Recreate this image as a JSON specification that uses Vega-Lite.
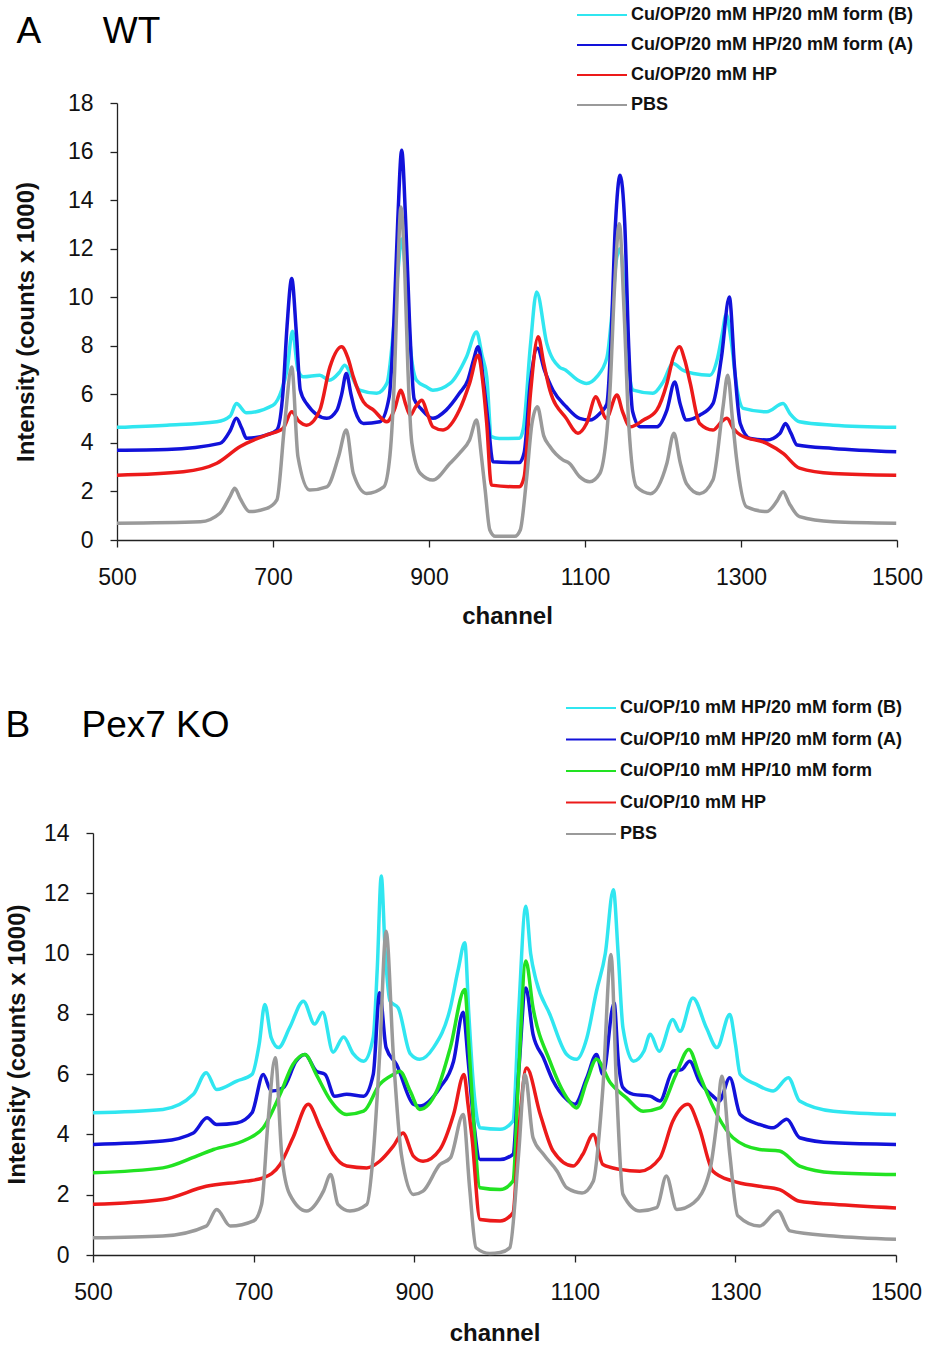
{
  "$schema": "https://vega.github.io/schema/vega-lite/v6.json",
  "padding": {"left": 5, "top": 6, "right": 5, "bottom": 0},
  "datasets": {
    "wt": [
      {"s": "Cu/OP/20 mM HP/20 mM form (B)", "ch": 500, "v": 4.64}, {"s": "Cu/OP/20 mM HP/20 mM form (B)", "ch": 564, "v": 4.73}, {"s": "Cu/OP/20 mM HP/20 mM form (B)", "ch": 628, "v": 4.87}, {"s": "Cu/OP/20 mM HP/20 mM form (B)", "ch": 645, "v": 5.1}, {"s": "Cu/OP/20 mM HP/20 mM form (B)", "ch": 653, "v": 5.62}, {"s": "Cu/OP/20 mM HP/20 mM form (B)", "ch": 666, "v": 5.24}, {"s": "Cu/OP/20 mM HP/20 mM form (B)", "ch": 700, "v": 5.55}, {"s": "Cu/OP/20 mM HP/20 mM form (B)", "ch": 711, "v": 6.17}, {"s": "Cu/OP/20 mM HP/20 mM form (B)", "ch": 718, "v": 7.0}, {"s": "Cu/OP/20 mM HP/20 mM form (B)", "ch": 725, "v": 8.6}, {"s": "Cu/OP/20 mM HP/20 mM form (B)", "ch": 732, "v": 7.0}, {"s": "Cu/OP/20 mM HP/20 mM form (B)", "ch": 739, "v": 6.72}, {"s": "Cu/OP/20 mM HP/20 mM form (B)", "ch": 760, "v": 6.79}, {"s": "Cu/OP/20 mM HP/20 mM form (B)", "ch": 772, "v": 6.58}, {"s": "Cu/OP/20 mM HP/20 mM form (B)", "ch": 785, "v": 6.9}, {"s": "Cu/OP/20 mM HP/20 mM form (B)", "ch": 792, "v": 7.2}, {"s": "Cu/OP/20 mM HP/20 mM form (B)", "ch": 800, "v": 6.8}, {"s": "Cu/OP/20 mM HP/20 mM form (B)", "ch": 811, "v": 6.17}, {"s": "Cu/OP/20 mM HP/20 mM form (B)", "ch": 833, "v": 6.04}, {"s": "Cu/OP/20 mM HP/20 mM form (B)", "ch": 846, "v": 6.45}, {"s": "Cu/OP/20 mM HP/20 mM form (B)", "ch": 854, "v": 8.5}, {"s": "Cu/OP/20 mM HP/20 mM form (B)", "ch": 860, "v": 11.0}, {"s": "Cu/OP/20 mM HP/20 mM form (B)", "ch": 865, "v": 12.4}, {"s": "Cu/OP/20 mM HP/20 mM form (B)", "ch": 870, "v": 11.0}, {"s": "Cu/OP/20 mM HP/20 mM form (B)", "ch": 876, "v": 8.0}, {"s": "Cu/OP/20 mM HP/20 mM form (B)", "ch": 884, "v": 6.58}, {"s": "Cu/OP/20 mM HP/20 mM form (B)", "ch": 897, "v": 6.3}, {"s": "Cu/OP/20 mM HP/20 mM form (B)", "ch": 905, "v": 6.17}, {"s": "Cu/OP/20 mM HP/20 mM form (B)", "ch": 927, "v": 6.45}, {"s": "Cu/OP/20 mM HP/20 mM form (B)", "ch": 948, "v": 7.54}, {"s": "Cu/OP/20 mM HP/20 mM form (B)", "ch": 961, "v": 8.57}, {"s": "Cu/OP/20 mM HP/20 mM form (B)", "ch": 968, "v": 7.6}, {"s": "Cu/OP/20 mM HP/20 mM form (B)", "ch": 974, "v": 6.72}, {"s": "Cu/OP/20 mM HP/20 mM form (B)", "ch": 980, "v": 4.26}, {"s": "Cu/OP/20 mM HP/20 mM form (B)", "ch": 990, "v": 4.18}, {"s": "Cu/OP/20 mM HP/20 mM form (B)", "ch": 1016, "v": 4.19}, {"s": "Cu/OP/20 mM HP/20 mM form (B)", "ch": 1021, "v": 4.6}, {"s": "Cu/OP/20 mM HP/20 mM form (B)", "ch": 1030, "v": 8.0}, {"s": "Cu/OP/20 mM HP/20 mM form (B)", "ch": 1038, "v": 10.22}, {"s": "Cu/OP/20 mM HP/20 mM form (B)", "ch": 1051, "v": 8.1}, {"s": "Cu/OP/20 mM HP/20 mM form (B)", "ch": 1067, "v": 7.13}, {"s": "Cu/OP/20 mM HP/20 mM form (B)", "ch": 1075, "v": 7.0}, {"s": "Cu/OP/20 mM HP/20 mM form (B)", "ch": 1090, "v": 6.6}, {"s": "Cu/OP/20 mM HP/20 mM form (B)", "ch": 1102, "v": 6.45}, {"s": "Cu/OP/20 mM HP/20 mM form (B)", "ch": 1115, "v": 6.72}, {"s": "Cu/OP/20 mM HP/20 mM form (B)", "ch": 1128, "v": 7.5}, {"s": "Cu/OP/20 mM HP/20 mM form (B)", "ch": 1135, "v": 9.5}, {"s": "Cu/OP/20 mM HP/20 mM form (B)", "ch": 1140, "v": 11.5}, {"s": "Cu/OP/20 mM HP/20 mM form (B)", "ch": 1145, "v": 12.0}, {"s": "Cu/OP/20 mM HP/20 mM form (B)", "ch": 1150, "v": 10.5}, {"s": "Cu/OP/20 mM HP/20 mM form (B)", "ch": 1155, "v": 7.5}, {"s": "Cu/OP/20 mM HP/20 mM form (B)", "ch": 1162, "v": 6.17}, {"s": "Cu/OP/20 mM HP/20 mM form (B)", "ch": 1187, "v": 6.04}, {"s": "Cu/OP/20 mM HP/20 mM form (B)", "ch": 1200, "v": 6.5}, {"s": "Cu/OP/20 mM HP/20 mM form (B)", "ch": 1213, "v": 7.27}, {"s": "Cu/OP/20 mM HP/20 mM form (B)", "ch": 1225, "v": 7.0}, {"s": "Cu/OP/20 mM HP/20 mM form (B)", "ch": 1239, "v": 6.86}, {"s": "Cu/OP/20 mM HP/20 mM form (B)", "ch": 1260, "v": 6.79}, {"s": "Cu/OP/20 mM HP/20 mM form (B)", "ch": 1270, "v": 7.5}, {"s": "Cu/OP/20 mM HP/20 mM form (B)", "ch": 1276, "v": 8.5}, {"s": "Cu/OP/20 mM HP/20 mM form (B)", "ch": 1281, "v": 9.3}, {"s": "Cu/OP/20 mM HP/20 mM form (B)", "ch": 1287, "v": 8.3}, {"s": "Cu/OP/20 mM HP/20 mM form (B)", "ch": 1295, "v": 6.2}, {"s": "Cu/OP/20 mM HP/20 mM form (B)", "ch": 1303, "v": 5.42}, {"s": "Cu/OP/20 mM HP/20 mM form (B)", "ch": 1333, "v": 5.28}, {"s": "Cu/OP/20 mM HP/20 mM form (B)", "ch": 1354, "v": 5.62}, {"s": "Cu/OP/20 mM HP/20 mM form (B)", "ch": 1363, "v": 5.2}, {"s": "Cu/OP/20 mM HP/20 mM form (B)", "ch": 1375, "v": 4.87}, {"s": "Cu/OP/20 mM HP/20 mM form (B)", "ch": 1418, "v": 4.73}, {"s": "Cu/OP/20 mM HP/20 mM form (B)", "ch": 1499, "v": 4.64},

      {"s": "Cu/OP/20 mM HP/20 mM form (A)", "ch": 500, "v": 3.7}, {"s": "Cu/OP/20 mM HP/20 mM form (A)", "ch": 564, "v": 3.73}, {"s": "Cu/OP/20 mM HP/20 mM form (A)", "ch": 632, "v": 3.98}, {"s": "Cu/OP/20 mM HP/20 mM form (A)", "ch": 645, "v": 4.5}, {"s": "Cu/OP/20 mM HP/20 mM form (A)", "ch": 653, "v": 5.01}, {"s": "Cu/OP/20 mM HP/20 mM form (A)", "ch": 660, "v": 4.6}, {"s": "Cu/OP/20 mM HP/20 mM form (A)", "ch": 666, "v": 4.19}, {"s": "Cu/OP/20 mM HP/20 mM form (A)", "ch": 692, "v": 4.33}, {"s": "Cu/OP/20 mM HP/20 mM form (A)", "ch": 705, "v": 4.53}, {"s": "Cu/OP/20 mM HP/20 mM form (A)", "ch": 713, "v": 6.17}, {"s": "Cu/OP/20 mM HP/20 mM form (A)", "ch": 718, "v": 8.8}, {"s": "Cu/OP/20 mM HP/20 mM form (A)", "ch": 724, "v": 10.77}, {"s": "Cu/OP/20 mM HP/20 mM form (A)", "ch": 730, "v": 8.5}, {"s": "Cu/OP/20 mM HP/20 mM form (A)", "ch": 735, "v": 6.17}, {"s": "Cu/OP/20 mM HP/20 mM form (A)", "ch": 743, "v": 5.62}, {"s": "Cu/OP/20 mM HP/20 mM form (A)", "ch": 769, "v": 5.01}, {"s": "Cu/OP/20 mM HP/20 mM form (A)", "ch": 782, "v": 5.35}, {"s": "Cu/OP/20 mM HP/20 mM form (A)", "ch": 788, "v": 6.0}, {"s": "Cu/OP/20 mM HP/20 mM form (A)", "ch": 794, "v": 6.86}, {"s": "Cu/OP/20 mM HP/20 mM form (A)", "ch": 800, "v": 6.0}, {"s": "Cu/OP/20 mM HP/20 mM form (A)", "ch": 805, "v": 5.35}, {"s": "Cu/OP/20 mM HP/20 mM form (A)", "ch": 816, "v": 4.8}, {"s": "Cu/OP/20 mM HP/20 mM form (A)", "ch": 837, "v": 4.87}, {"s": "Cu/OP/20 mM HP/20 mM form (A)", "ch": 849, "v": 5.9}, {"s": "Cu/OP/20 mM HP/20 mM form (A)", "ch": 855, "v": 9.0}, {"s": "Cu/OP/20 mM HP/20 mM form (A)", "ch": 860, "v": 13.2}, {"s": "Cu/OP/20 mM HP/20 mM form (A)", "ch": 865, "v": 16.05}, {"s": "Cu/OP/20 mM HP/20 mM form (A)", "ch": 870, "v": 13.2}, {"s": "Cu/OP/20 mM HP/20 mM form (A)", "ch": 875, "v": 9.0}, {"s": "Cu/OP/20 mM HP/20 mM form (A)", "ch": 881, "v": 5.8}, {"s": "Cu/OP/20 mM HP/20 mM form (A)", "ch": 890, "v": 5.4}, {"s": "Cu/OP/20 mM HP/20 mM form (A)", "ch": 905, "v": 5.01}, {"s": "Cu/OP/20 mM HP/20 mM form (A)", "ch": 922, "v": 5.35}, {"s": "Cu/OP/20 mM HP/20 mM form (A)", "ch": 939, "v": 6.04}, {"s": "Cu/OP/20 mM HP/20 mM form (A)", "ch": 950, "v": 6.6}, {"s": "Cu/OP/20 mM HP/20 mM form (A)", "ch": 957, "v": 7.4}, {"s": "Cu/OP/20 mM HP/20 mM form (A)", "ch": 963, "v": 7.96}, {"s": "Cu/OP/20 mM HP/20 mM form (A)", "ch": 970, "v": 6.5}, {"s": "Cu/OP/20 mM HP/20 mM form (A)", "ch": 976, "v": 4.8}, {"s": "Cu/OP/20 mM HP/20 mM form (A)", "ch": 982, "v": 3.22}, {"s": "Cu/OP/20 mM HP/20 mM form (A)", "ch": 1016, "v": 3.19}, {"s": "Cu/OP/20 mM HP/20 mM form (A)", "ch": 1022, "v": 3.6}, {"s": "Cu/OP/20 mM HP/20 mM form (A)", "ch": 1030, "v": 6.5}, {"s": "Cu/OP/20 mM HP/20 mM form (A)", "ch": 1039, "v": 7.9}, {"s": "Cu/OP/20 mM HP/20 mM form (A)", "ch": 1048, "v": 7.0}, {"s": "Cu/OP/20 mM HP/20 mM form (A)", "ch": 1059, "v": 6.17}, {"s": "Cu/OP/20 mM HP/20 mM form (A)", "ch": 1076, "v": 5.49}, {"s": "Cu/OP/20 mM HP/20 mM form (A)", "ch": 1093, "v": 5.01}, {"s": "Cu/OP/20 mM HP/20 mM form (A)", "ch": 1106, "v": 4.94}, {"s": "Cu/OP/20 mM HP/20 mM form (A)", "ch": 1119, "v": 5.21}, {"s": "Cu/OP/20 mM HP/20 mM form (A)", "ch": 1128, "v": 5.6}, {"s": "Cu/OP/20 mM HP/20 mM form (A)", "ch": 1133, "v": 8.0}, {"s": "Cu/OP/20 mM HP/20 mM form (A)", "ch": 1139, "v": 13.0}, {"s": "Cu/OP/20 mM HP/20 mM form (A)", "ch": 1145, "v": 15.02}, {"s": "Cu/OP/20 mM HP/20 mM form (A)", "ch": 1151, "v": 13.0}, {"s": "Cu/OP/20 mM HP/20 mM form (A)", "ch": 1156, "v": 8.0}, {"s": "Cu/OP/20 mM HP/20 mM form (A)", "ch": 1161, "v": 5.3}, {"s": "Cu/OP/20 mM HP/20 mM form (A)", "ch": 1171, "v": 4.66}, {"s": "Cu/OP/20 mM HP/20 mM form (A)", "ch": 1192, "v": 4.66}, {"s": "Cu/OP/20 mM HP/20 mM form (A)", "ch": 1205, "v": 5.35}, {"s": "Cu/OP/20 mM HP/20 mM form (A)", "ch": 1215, "v": 6.51}, {"s": "Cu/OP/20 mM HP/20 mM form (A)", "ch": 1222, "v": 5.6}, {"s": "Cu/OP/20 mM HP/20 mM form (A)", "ch": 1230, "v": 4.94}, {"s": "Cu/OP/20 mM HP/20 mM form (A)", "ch": 1247, "v": 5.14}, {"s": "Cu/OP/20 mM HP/20 mM form (A)", "ch": 1264, "v": 5.62}, {"s": "Cu/OP/20 mM HP/20 mM form (A)", "ch": 1275, "v": 7.54}, {"s": "Cu/OP/20 mM HP/20 mM form (A)", "ch": 1285, "v": 10.01}, {"s": "Cu/OP/20 mM HP/20 mM form (A)", "ch": 1292, "v": 7.0}, {"s": "Cu/OP/20 mM HP/20 mM form (A)", "ch": 1299, "v": 4.8}, {"s": "Cu/OP/20 mM HP/20 mM form (A)", "ch": 1312, "v": 4.18}, {"s": "Cu/OP/20 mM HP/20 mM form (A)", "ch": 1333, "v": 4.12}, {"s": "Cu/OP/20 mM HP/20 mM form (A)", "ch": 1350, "v": 4.4}, {"s": "Cu/OP/20 mM HP/20 mM form (A)", "ch": 1357, "v": 4.8}, {"s": "Cu/OP/20 mM HP/20 mM form (A)", "ch": 1364, "v": 4.4}, {"s": "Cu/OP/20 mM HP/20 mM form (A)", "ch": 1372, "v": 3.91}, {"s": "Cu/OP/20 mM HP/20 mM form (A)", "ch": 1418, "v": 3.77}, {"s": "Cu/OP/20 mM HP/20 mM form (A)", "ch": 1499, "v": 3.63},

      {"s": "Cu/OP/20 mM HP", "ch": 500, "v": 2.67}, {"s": "Cu/OP/20 mM HP", "ch": 585, "v": 2.81}, {"s": "Cu/OP/20 mM HP", "ch": 628, "v": 3.16}, {"s": "Cu/OP/20 mM HP", "ch": 658, "v": 3.85}, {"s": "Cu/OP/20 mM HP", "ch": 692, "v": 4.33}, {"s": "Cu/OP/20 mM HP", "ch": 713, "v": 4.6}, {"s": "Cu/OP/20 mM HP", "ch": 724, "v": 5.28}, {"s": "Cu/OP/20 mM HP", "ch": 733, "v": 4.9}, {"s": "Cu/OP/20 mM HP", "ch": 743, "v": 4.73}, {"s": "Cu/OP/20 mM HP", "ch": 760, "v": 5.35}, {"s": "Cu/OP/20 mM HP", "ch": 773, "v": 7.13}, {"s": "Cu/OP/20 mM HP", "ch": 788, "v": 7.96}, {"s": "Cu/OP/20 mM HP", "ch": 796, "v": 7.5}, {"s": "Cu/OP/20 mM HP", "ch": 803, "v": 6.72}, {"s": "Cu/OP/20 mM HP", "ch": 816, "v": 5.69}, {"s": "Cu/OP/20 mM HP", "ch": 829, "v": 5.35}, {"s": "Cu/OP/20 mM HP", "ch": 846, "v": 4.87}, {"s": "Cu/OP/20 mM HP", "ch": 856, "v": 5.4}, {"s": "Cu/OP/20 mM HP", "ch": 864, "v": 6.17}, {"s": "Cu/OP/20 mM HP", "ch": 870, "v": 5.6}, {"s": "Cu/OP/20 mM HP", "ch": 876, "v": 5.14}, {"s": "Cu/OP/20 mM HP", "ch": 883, "v": 5.5}, {"s": "Cu/OP/20 mM HP", "ch": 891, "v": 5.76}, {"s": "Cu/OP/20 mM HP", "ch": 898, "v": 5.2}, {"s": "Cu/OP/20 mM HP", "ch": 905, "v": 4.66}, {"s": "Cu/OP/20 mM HP", "ch": 918, "v": 4.53}, {"s": "Cu/OP/20 mM HP", "ch": 939, "v": 5.35}, {"s": "Cu/OP/20 mM HP", "ch": 952, "v": 6.45}, {"s": "Cu/OP/20 mM HP", "ch": 963, "v": 7.61}, {"s": "Cu/OP/20 mM HP", "ch": 969, "v": 6.5}, {"s": "Cu/OP/20 mM HP", "ch": 974, "v": 4.8}, {"s": "Cu/OP/20 mM HP", "ch": 980, "v": 2.26}, {"s": "Cu/OP/20 mM HP", "ch": 1016, "v": 2.19}, {"s": "Cu/OP/20 mM HP", "ch": 1022, "v": 2.6}, {"s": "Cu/OP/20 mM HP", "ch": 1030, "v": 6.0}, {"s": "Cu/OP/20 mM HP", "ch": 1040, "v": 8.37}, {"s": "Cu/OP/20 mM HP", "ch": 1047, "v": 7.3}, {"s": "Cu/OP/20 mM HP", "ch": 1055, "v": 6.17}, {"s": "Cu/OP/20 mM HP", "ch": 1076, "v": 5.01}, {"s": "Cu/OP/20 mM HP", "ch": 1091, "v": 4.4}, {"s": "Cu/OP/20 mM HP", "ch": 1102, "v": 4.8}, {"s": "Cu/OP/20 mM HP", "ch": 1114, "v": 5.9}, {"s": "Cu/OP/20 mM HP", "ch": 1120, "v": 5.5}, {"s": "Cu/OP/20 mM HP", "ch": 1127, "v": 5.0}, {"s": "Cu/OP/20 mM HP", "ch": 1141, "v": 5.97}, {"s": "Cu/OP/20 mM HP", "ch": 1148, "v": 5.3}, {"s": "Cu/OP/20 mM HP", "ch": 1158, "v": 4.66}, {"s": "Cu/OP/20 mM HP", "ch": 1175, "v": 4.94}, {"s": "Cu/OP/20 mM HP", "ch": 1192, "v": 5.35}, {"s": "Cu/OP/20 mM HP", "ch": 1205, "v": 6.45}, {"s": "Cu/OP/20 mM HP", "ch": 1213, "v": 7.5}, {"s": "Cu/OP/20 mM HP", "ch": 1221, "v": 7.96}, {"s": "Cu/OP/20 mM HP", "ch": 1228, "v": 7.4}, {"s": "Cu/OP/20 mM HP", "ch": 1235, "v": 6.45}, {"s": "Cu/OP/20 mM HP", "ch": 1247, "v": 4.8}, {"s": "Cu/OP/20 mM HP", "ch": 1264, "v": 4.53}, {"s": "Cu/OP/20 mM HP", "ch": 1276, "v": 4.9}, {"s": "Cu/OP/20 mM HP", "ch": 1282, "v": 5.01}, {"s": "Cu/OP/20 mM HP", "ch": 1290, "v": 4.6}, {"s": "Cu/OP/20 mM HP", "ch": 1299, "v": 4.33}, {"s": "Cu/OP/20 mM HP", "ch": 1333, "v": 3.98}, {"s": "Cu/OP/20 mM HP", "ch": 1354, "v": 3.57}, {"s": "Cu/OP/20 mM HP", "ch": 1375, "v": 2.96}, {"s": "Cu/OP/20 mM HP", "ch": 1418, "v": 2.74}, {"s": "Cu/OP/20 mM HP", "ch": 1499, "v": 2.67},

      {"s": "PBS", "ch": 500, "v": 0.69}, {"s": "PBS", "ch": 607, "v": 0.75}, {"s": "PBS", "ch": 632, "v": 1.1}, {"s": "PBS", "ch": 645, "v": 1.8}, {"s": "PBS", "ch": 651, "v": 2.13}, {"s": "PBS", "ch": 658, "v": 1.7}, {"s": "PBS", "ch": 670, "v": 1.17}, {"s": "PBS", "ch": 692, "v": 1.3}, {"s": "PBS", "ch": 705, "v": 1.65}, {"s": "PBS", "ch": 715, "v": 4.8}, {"s": "PBS", "ch": 724, "v": 7.13}, {"s": "PBS", "ch": 732, "v": 3.43}, {"s": "PBS", "ch": 747, "v": 2.06}, {"s": "PBS", "ch": 769, "v": 2.19}, {"s": "PBS", "ch": 784, "v": 3.43}, {"s": "PBS", "ch": 794, "v": 4.53}, {"s": "PBS", "ch": 803, "v": 2.74}, {"s": "PBS", "ch": 820, "v": 1.92}, {"s": "PBS", "ch": 842, "v": 2.19}, {"s": "PBS", "ch": 850, "v": 3.5}, {"s": "PBS", "ch": 856, "v": 7.0}, {"s": "PBS", "ch": 860, "v": 11.0}, {"s": "PBS", "ch": 864, "v": 13.72}, {"s": "PBS", "ch": 869, "v": 11.0}, {"s": "PBS", "ch": 873, "v": 7.0}, {"s": "PBS", "ch": 878, "v": 4.0}, {"s": "PBS", "ch": 889, "v": 2.74}, {"s": "PBS", "ch": 905, "v": 2.47}, {"s": "PBS", "ch": 927, "v": 3.16}, {"s": "PBS", "ch": 939, "v": 3.57}, {"s": "PBS", "ch": 952, "v": 4.12}, {"s": "PBS", "ch": 961, "v": 4.94}, {"s": "PBS", "ch": 967, "v": 3.5}, {"s": "PBS", "ch": 972, "v": 2.06}, {"s": "PBS", "ch": 978, "v": 0.41}, {"s": "PBS", "ch": 985, "v": 0.15}, {"s": "PBS", "ch": 1010, "v": 0.15}, {"s": "PBS", "ch": 1017, "v": 0.41}, {"s": "PBS", "ch": 1025, "v": 2.5}, {"s": "PBS", "ch": 1032, "v": 4.8}, {"s": "PBS", "ch": 1039, "v": 5.49}, {"s": "PBS", "ch": 1047, "v": 4.3}, {"s": "PBS", "ch": 1055, "v": 3.85}, {"s": "PBS", "ch": 1072, "v": 3.29}, {"s": "PBS", "ch": 1080, "v": 3.16}, {"s": "PBS", "ch": 1093, "v": 2.61}, {"s": "PBS", "ch": 1106, "v": 2.4}, {"s": "PBS", "ch": 1119, "v": 2.74}, {"s": "PBS", "ch": 1132, "v": 6.17}, {"s": "PBS", "ch": 1138, "v": 10.5}, {"s": "PBS", "ch": 1144, "v": 13.03}, {"s": "PBS", "ch": 1150, "v": 9.5}, {"s": "PBS", "ch": 1156, "v": 4.8}, {"s": "PBS", "ch": 1166, "v": 2.19}, {"s": "PBS", "ch": 1184, "v": 1.91}, {"s": "PBS", "ch": 1205, "v": 3.16}, {"s": "PBS", "ch": 1214, "v": 4.4}, {"s": "PBS", "ch": 1222, "v": 3.2}, {"s": "PBS", "ch": 1230, "v": 2.33}, {"s": "PBS", "ch": 1247, "v": 1.91}, {"s": "PBS", "ch": 1264, "v": 2.47}, {"s": "PBS", "ch": 1277, "v": 5.49}, {"s": "PBS", "ch": 1283, "v": 6.79}, {"s": "PBS", "ch": 1289, "v": 5.0}, {"s": "PBS", "ch": 1294, "v": 3.43}, {"s": "PBS", "ch": 1307, "v": 1.37}, {"s": "PBS", "ch": 1333, "v": 1.17}, {"s": "PBS", "ch": 1346, "v": 1.6}, {"s": "PBS", "ch": 1354, "v": 1.99}, {"s": "PBS", "ch": 1362, "v": 1.5}, {"s": "PBS", "ch": 1375, "v": 0.96}, {"s": "PBS", "ch": 1418, "v": 0.75}, {"s": "PBS", "ch": 1499, "v": 0.69}
    ],
    "ko": [
      {"s": "Cu/OP/10 mM HP/20 mM form (B)", "ch": 500, "v": 4.72}, {"s": "Cu/OP/10 mM HP/20 mM form (B)", "ch": 587, "v": 4.83}, {"s": "Cu/OP/10 mM HP/20 mM form (B)", "ch": 625, "v": 5.33}, {"s": "Cu/OP/10 mM HP/20 mM form (B)", "ch": 641, "v": 6.05}, {"s": "Cu/OP/10 mM HP/20 mM form (B)", "ch": 654, "v": 5.49}, {"s": "Cu/OP/10 mM HP/20 mM form (B)", "ch": 679, "v": 5.77}, {"s": "Cu/OP/10 mM HP/20 mM form (B)", "ch": 698, "v": 5.99}, {"s": "Cu/OP/10 mM HP/20 mM form (B)", "ch": 707, "v": 7.0}, {"s": "Cu/OP/10 mM HP/20 mM form (B)", "ch": 714, "v": 8.31}, {"s": "Cu/OP/10 mM HP/20 mM form (B)", "ch": 722, "v": 7.2}, {"s": "Cu/OP/10 mM HP/20 mM form (B)", "ch": 731, "v": 6.88}, {"s": "Cu/OP/10 mM HP/20 mM form (B)", "ch": 745, "v": 7.55}, {"s": "Cu/OP/10 mM HP/20 mM form (B)", "ch": 762, "v": 8.42}, {"s": "Cu/OP/10 mM HP/20 mM form (B)", "ch": 776, "v": 7.66}, {"s": "Cu/OP/10 mM HP/20 mM form (B)", "ch": 786, "v": 8.05}, {"s": "Cu/OP/10 mM HP/20 mM form (B)", "ch": 799, "v": 6.73}, {"s": "Cu/OP/10 mM HP/20 mM form (B)", "ch": 812, "v": 7.23}, {"s": "Cu/OP/10 mM HP/20 mM form (B)", "ch": 824, "v": 6.68}, {"s": "Cu/OP/10 mM HP/20 mM form (B)", "ch": 837, "v": 6.43}, {"s": "Cu/OP/10 mM HP/20 mM form (B)", "ch": 849, "v": 7.23}, {"s": "Cu/OP/10 mM HP/20 mM form (B)", "ch": 854, "v": 9.5}, {"s": "Cu/OP/10 mM HP/20 mM form (B)", "ch": 859, "v": 12.57}, {"s": "Cu/OP/10 mM HP/20 mM form (B)", "ch": 864, "v": 10.0}, {"s": "Cu/OP/10 mM HP/20 mM form (B)", "ch": 870, "v": 8.42}, {"s": "Cu/OP/10 mM HP/20 mM form (B)", "ch": 880, "v": 8.2}, {"s": "Cu/OP/10 mM HP/20 mM form (B)", "ch": 895, "v": 6.68}, {"s": "Cu/OP/10 mM HP/20 mM form (B)", "ch": 907, "v": 6.49}, {"s": "Cu/OP/10 mM HP/20 mM form (B)", "ch": 924, "v": 6.88}, {"s": "Cu/OP/10 mM HP/20 mM form (B)", "ch": 945, "v": 8.2}, {"s": "Cu/OP/10 mM HP/20 mM form (B)", "ch": 955, "v": 9.5}, {"s": "Cu/OP/10 mM HP/20 mM form (B)", "ch": 963, "v": 10.36}, {"s": "Cu/OP/10 mM HP/20 mM form (B)", "ch": 968, "v": 8.0}, {"s": "Cu/OP/10 mM HP/20 mM form (B)", "ch": 974, "v": 5.55}, {"s": "Cu/OP/10 mM HP/20 mM form (B)", "ch": 982, "v": 4.22}, {"s": "Cu/OP/10 mM HP/20 mM form (B)", "ch": 1007, "v": 4.17}, {"s": "Cu/OP/10 mM HP/20 mM form (B)", "ch": 1023, "v": 4.44}, {"s": "Cu/OP/10 mM HP/20 mM form (B)", "ch": 1030, "v": 8.0}, {"s": "Cu/OP/10 mM HP/20 mM form (B)", "ch": 1039, "v": 11.57}, {"s": "Cu/OP/10 mM HP/20 mM form (B)", "ch": 1045, "v": 10.0}, {"s": "Cu/OP/10 mM HP/20 mM form (B)", "ch": 1052, "v": 9.09}, {"s": "Cu/OP/10 mM HP/20 mM form (B)", "ch": 1069, "v": 7.98}, {"s": "Cu/OP/10 mM HP/20 mM form (B)", "ch": 1090, "v": 6.65}, {"s": "Cu/OP/10 mM HP/20 mM form (B)", "ch": 1102, "v": 6.49}, {"s": "Cu/OP/10 mM HP/20 mM form (B)", "ch": 1115, "v": 7.2}, {"s": "Cu/OP/10 mM HP/20 mM form (B)", "ch": 1127, "v": 8.75}, {"s": "Cu/OP/10 mM HP/20 mM form (B)", "ch": 1138, "v": 10.0}, {"s": "Cu/OP/10 mM HP/20 mM form (B)", "ch": 1148, "v": 12.12}, {"s": "Cu/OP/10 mM HP/20 mM form (B)", "ch": 1154, "v": 10.0}, {"s": "Cu/OP/10 mM HP/20 mM form (B)", "ch": 1160, "v": 7.53}, {"s": "Cu/OP/10 mM HP/20 mM form (B)", "ch": 1173, "v": 6.43}, {"s": "Cu/OP/10 mM HP/20 mM form (B)", "ch": 1186, "v": 6.76}, {"s": "Cu/OP/10 mM HP/20 mM form (B)", "ch": 1194, "v": 7.32}, {"s": "Cu/OP/10 mM HP/20 mM form (B)", "ch": 1205, "v": 6.76}, {"s": "Cu/OP/10 mM HP/20 mM form (B)", "ch": 1222, "v": 7.81}, {"s": "Cu/OP/10 mM HP/20 mM form (B)", "ch": 1231, "v": 7.42}, {"s": "Cu/OP/10 mM HP/20 mM form (B)", "ch": 1247, "v": 8.53}, {"s": "Cu/OP/10 mM HP/20 mM form (B)", "ch": 1264, "v": 7.53}, {"s": "Cu/OP/10 mM HP/20 mM form (B)", "ch": 1277, "v": 6.88}, {"s": "Cu/OP/10 mM HP/20 mM form (B)", "ch": 1293, "v": 7.98}, {"s": "Cu/OP/10 mM HP/20 mM form (B)", "ch": 1300, "v": 7.0}, {"s": "Cu/OP/10 mM HP/20 mM form (B)", "ch": 1306, "v": 5.99}, {"s": "Cu/OP/10 mM HP/20 mM form (B)", "ch": 1326, "v": 5.66}, {"s": "Cu/OP/10 mM HP/20 mM form (B)", "ch": 1347, "v": 5.44}, {"s": "Cu/OP/10 mM HP/20 mM form (B)", "ch": 1366, "v": 5.88}, {"s": "Cu/OP/10 mM HP/20 mM form (B)", "ch": 1380, "v": 5.11}, {"s": "Cu/OP/10 mM HP/20 mM form (B)", "ch": 1422, "v": 4.77}, {"s": "Cu/OP/10 mM HP/20 mM form (B)", "ch": 1500, "v": 4.66},

      {"s": "Cu/OP/10 mM HP/20 mM form (A)", "ch": 500, "v": 3.67}, {"s": "Cu/OP/10 mM HP/20 mM form (A)", "ch": 587, "v": 3.78}, {"s": "Cu/OP/10 mM HP/20 mM form (A)", "ch": 625, "v": 4.05}, {"s": "Cu/OP/10 mM HP/20 mM form (A)", "ch": 642, "v": 4.55}, {"s": "Cu/OP/10 mM HP/20 mM form (A)", "ch": 654, "v": 4.33}, {"s": "Cu/OP/10 mM HP/20 mM form (A)", "ch": 679, "v": 4.38}, {"s": "Cu/OP/10 mM HP/20 mM form (A)", "ch": 698, "v": 4.72}, {"s": "Cu/OP/10 mM HP/20 mM form (A)", "ch": 712, "v": 5.99}, {"s": "Cu/OP/10 mM HP/20 mM form (A)", "ch": 722, "v": 5.44}, {"s": "Cu/OP/10 mM HP/20 mM form (A)", "ch": 737, "v": 5.55}, {"s": "Cu/OP/10 mM HP/20 mM form (A)", "ch": 753, "v": 6.43}, {"s": "Cu/OP/10 mM HP/20 mM form (A)", "ch": 764, "v": 6.65}, {"s": "Cu/OP/10 mM HP/20 mM form (A)", "ch": 778, "v": 6.1}, {"s": "Cu/OP/10 mM HP/20 mM form (A)", "ch": 789, "v": 5.99}, {"s": "Cu/OP/10 mM HP/20 mM form (A)", "ch": 801, "v": 5.27}, {"s": "Cu/OP/10 mM HP/20 mM form (A)", "ch": 816, "v": 5.33}, {"s": "Cu/OP/10 mM HP/20 mM form (A)", "ch": 837, "v": 5.27}, {"s": "Cu/OP/10 mM HP/20 mM form (A)", "ch": 849, "v": 5.99}, {"s": "Cu/OP/10 mM HP/20 mM form (A)", "ch": 857, "v": 8.7}, {"s": "Cu/OP/10 mM HP/20 mM form (A)", "ch": 865, "v": 6.88}, {"s": "Cu/OP/10 mM HP/20 mM form (A)", "ch": 878, "v": 6.32}, {"s": "Cu/OP/10 mM HP/20 mM form (A)", "ch": 899, "v": 5.0}, {"s": "Cu/OP/10 mM HP/20 mM form (A)", "ch": 907, "v": 4.94}, {"s": "Cu/OP/10 mM HP/20 mM form (A)", "ch": 932, "v": 5.55}, {"s": "Cu/OP/10 mM HP/20 mM form (A)", "ch": 949, "v": 6.43}, {"s": "Cu/OP/10 mM HP/20 mM form (A)", "ch": 961, "v": 8.05}, {"s": "Cu/OP/10 mM HP/20 mM form (A)", "ch": 967, "v": 6.5}, {"s": "Cu/OP/10 mM HP/20 mM form (A)", "ch": 974, "v": 4.44}, {"s": "Cu/OP/10 mM HP/20 mM form (A)", "ch": 982, "v": 3.17}, {"s": "Cu/OP/10 mM HP/20 mM form (A)", "ch": 1007, "v": 3.17}, {"s": "Cu/OP/10 mM HP/20 mM form (A)", "ch": 1023, "v": 3.34}, {"s": "Cu/OP/10 mM HP/20 mM form (A)", "ch": 1030, "v": 6.0}, {"s": "Cu/OP/10 mM HP/20 mM form (A)", "ch": 1039, "v": 8.86}, {"s": "Cu/OP/10 mM HP/20 mM form (A)", "ch": 1048, "v": 7.32}, {"s": "Cu/OP/10 mM HP/20 mM form (A)", "ch": 1061, "v": 6.54}, {"s": "Cu/OP/10 mM HP/20 mM form (A)", "ch": 1073, "v": 5.77}, {"s": "Cu/OP/10 mM HP/20 mM form (A)", "ch": 1090, "v": 5.16}, {"s": "Cu/OP/10 mM HP/20 mM form (A)", "ch": 1100, "v": 5.0}, {"s": "Cu/OP/10 mM HP/20 mM form (A)", "ch": 1115, "v": 5.88}, {"s": "Cu/OP/10 mM HP/20 mM form (A)", "ch": 1127, "v": 6.65}, {"s": "Cu/OP/10 mM HP/20 mM form (A)", "ch": 1135, "v": 5.99}, {"s": "Cu/OP/10 mM HP/20 mM form (A)", "ch": 1149, "v": 8.36}, {"s": "Cu/OP/10 mM HP/20 mM form (A)", "ch": 1154, "v": 6.5}, {"s": "Cu/OP/10 mM HP/20 mM form (A)", "ch": 1160, "v": 5.55}, {"s": "Cu/OP/10 mM HP/20 mM form (A)", "ch": 1173, "v": 5.33}, {"s": "Cu/OP/10 mM HP/20 mM form (A)", "ch": 1194, "v": 5.27}, {"s": "Cu/OP/10 mM HP/20 mM form (A)", "ch": 1206, "v": 5.11}, {"s": "Cu/OP/10 mM HP/20 mM form (A)", "ch": 1222, "v": 6.1}, {"s": "Cu/OP/10 mM HP/20 mM form (A)", "ch": 1233, "v": 6.15}, {"s": "Cu/OP/10 mM HP/20 mM form (A)", "ch": 1243, "v": 6.43}, {"s": "Cu/OP/10 mM HP/20 mM form (A)", "ch": 1255, "v": 5.77}, {"s": "Cu/OP/10 mM HP/20 mM form (A)", "ch": 1272, "v": 5.27}, {"s": "Cu/OP/10 mM HP/20 mM form (A)", "ch": 1280, "v": 5.11}, {"s": "Cu/OP/10 mM HP/20 mM form (A)", "ch": 1293, "v": 5.88}, {"s": "Cu/OP/10 mM HP/20 mM form (A)", "ch": 1306, "v": 4.66}, {"s": "Cu/OP/10 mM HP/20 mM form (A)", "ch": 1330, "v": 4.33}, {"s": "Cu/OP/10 mM HP/20 mM form (A)", "ch": 1347, "v": 4.22}, {"s": "Cu/OP/10 mM HP/20 mM form (A)", "ch": 1364, "v": 4.5}, {"s": "Cu/OP/10 mM HP/20 mM form (A)", "ch": 1380, "v": 3.89}, {"s": "Cu/OP/10 mM HP/20 mM form (A)", "ch": 1422, "v": 3.72}, {"s": "Cu/OP/10 mM HP/20 mM form (A)", "ch": 1500, "v": 3.67},

      {"s": "Cu/OP/10 mM HP/10 mM form", "ch": 500, "v": 2.73}, {"s": "Cu/OP/10 mM HP/10 mM form", "ch": 587, "v": 2.89}, {"s": "Cu/OP/10 mM HP/10 mM form", "ch": 629, "v": 3.28}, {"s": "Cu/OP/10 mM HP/10 mM form", "ch": 650, "v": 3.5}, {"s": "Cu/OP/10 mM HP/10 mM form", "ch": 691, "v": 3.83}, {"s": "Cu/OP/10 mM HP/10 mM form", "ch": 712, "v": 4.22}, {"s": "Cu/OP/10 mM HP/10 mM form", "ch": 733, "v": 5.33}, {"s": "Cu/OP/10 mM HP/10 mM form", "ch": 749, "v": 6.32}, {"s": "Cu/OP/10 mM HP/10 mM form", "ch": 764, "v": 6.65}, {"s": "Cu/OP/10 mM HP/10 mM form", "ch": 778, "v": 5.99}, {"s": "Cu/OP/10 mM HP/10 mM form", "ch": 795, "v": 5.16}, {"s": "Cu/OP/10 mM HP/10 mM form", "ch": 816, "v": 4.66}, {"s": "Cu/OP/10 mM HP/10 mM form", "ch": 837, "v": 4.77}, {"s": "Cu/OP/10 mM HP/10 mM form", "ch": 857, "v": 5.66}, {"s": "Cu/OP/10 mM HP/10 mM form", "ch": 874, "v": 5.99}, {"s": "Cu/OP/10 mM HP/10 mM form", "ch": 882, "v": 6.1}, {"s": "Cu/OP/10 mM HP/10 mM form", "ch": 895, "v": 5.44}, {"s": "Cu/OP/10 mM HP/10 mM form", "ch": 907, "v": 4.83}, {"s": "Cu/OP/10 mM HP/10 mM form", "ch": 928, "v": 5.44}, {"s": "Cu/OP/10 mM HP/10 mM form", "ch": 945, "v": 6.88}, {"s": "Cu/OP/10 mM HP/10 mM form", "ch": 963, "v": 8.81}, {"s": "Cu/OP/10 mM HP/10 mM form", "ch": 968, "v": 7.0}, {"s": "Cu/OP/10 mM HP/10 mM form", "ch": 974, "v": 4.44}, {"s": "Cu/OP/10 mM HP/10 mM form", "ch": 982, "v": 2.23}, {"s": "Cu/OP/10 mM HP/10 mM form", "ch": 1007, "v": 2.17}, {"s": "Cu/OP/10 mM HP/10 mM form", "ch": 1023, "v": 2.45}, {"s": "Cu/OP/10 mM HP/10 mM form", "ch": 1030, "v": 6.0}, {"s": "Cu/OP/10 mM HP/10 mM form", "ch": 1039, "v": 9.75}, {"s": "Cu/OP/10 mM HP/10 mM form", "ch": 1048, "v": 8.2}, {"s": "Cu/OP/10 mM HP/10 mM form", "ch": 1069, "v": 6.43}, {"s": "Cu/OP/10 mM HP/10 mM form", "ch": 1090, "v": 5.22}, {"s": "Cu/OP/10 mM HP/10 mM form", "ch": 1102, "v": 4.88}, {"s": "Cu/OP/10 mM HP/10 mM form", "ch": 1115, "v": 5.77}, {"s": "Cu/OP/10 mM HP/10 mM form", "ch": 1127, "v": 6.49}, {"s": "Cu/OP/10 mM HP/10 mM form", "ch": 1144, "v": 5.72}, {"s": "Cu/OP/10 mM HP/10 mM form", "ch": 1164, "v": 5.22}, {"s": "Cu/OP/10 mM HP/10 mM form", "ch": 1185, "v": 4.77}, {"s": "Cu/OP/10 mM HP/10 mM form", "ch": 1206, "v": 4.88}, {"s": "Cu/OP/10 mM HP/10 mM form", "ch": 1226, "v": 5.99}, {"s": "Cu/OP/10 mM HP/10 mM form", "ch": 1242, "v": 6.82}, {"s": "Cu/OP/10 mM HP/10 mM form", "ch": 1255, "v": 5.99}, {"s": "Cu/OP/10 mM HP/10 mM form", "ch": 1277, "v": 4.66}, {"s": "Cu/OP/10 mM HP/10 mM form", "ch": 1297, "v": 3.89}, {"s": "Cu/OP/10 mM HP/10 mM form", "ch": 1330, "v": 3.5}, {"s": "Cu/OP/10 mM HP/10 mM form", "ch": 1355, "v": 3.45}, {"s": "Cu/OP/10 mM HP/10 mM form", "ch": 1380, "v": 2.95}, {"s": "Cu/OP/10 mM HP/10 mM form", "ch": 1422, "v": 2.73}, {"s": "Cu/OP/10 mM HP/10 mM form", "ch": 1500, "v": 2.67},

      {"s": "Cu/OP/10 mM HP", "ch": 500, "v": 1.68}, {"s": "Cu/OP/10 mM HP", "ch": 587, "v": 1.84}, {"s": "Cu/OP/10 mM HP", "ch": 641, "v": 2.28}, {"s": "Cu/OP/10 mM HP", "ch": 691, "v": 2.45}, {"s": "Cu/OP/10 mM HP", "ch": 712, "v": 2.56}, {"s": "Cu/OP/10 mM HP", "ch": 733, "v": 3.0}, {"s": "Cu/OP/10 mM HP", "ch": 749, "v": 3.89}, {"s": "Cu/OP/10 mM HP", "ch": 768, "v": 5.0}, {"s": "Cu/OP/10 mM HP", "ch": 783, "v": 4.22}, {"s": "Cu/OP/10 mM HP", "ch": 799, "v": 3.34}, {"s": "Cu/OP/10 mM HP", "ch": 816, "v": 2.95}, {"s": "Cu/OP/10 mM HP", "ch": 841, "v": 2.89}, {"s": "Cu/OP/10 mM HP", "ch": 857, "v": 3.11}, {"s": "Cu/OP/10 mM HP", "ch": 874, "v": 3.61}, {"s": "Cu/OP/10 mM HP", "ch": 886, "v": 4.05}, {"s": "Cu/OP/10 mM HP", "ch": 899, "v": 3.28}, {"s": "Cu/OP/10 mM HP", "ch": 911, "v": 3.11}, {"s": "Cu/OP/10 mM HP", "ch": 932, "v": 3.5}, {"s": "Cu/OP/10 mM HP", "ch": 949, "v": 4.66}, {"s": "Cu/OP/10 mM HP", "ch": 962, "v": 5.99}, {"s": "Cu/OP/10 mM HP", "ch": 967, "v": 5.0}, {"s": "Cu/OP/10 mM HP", "ch": 972, "v": 3.89}, {"s": "Cu/OP/10 mM HP", "ch": 982, "v": 1.18}, {"s": "Cu/OP/10 mM HP", "ch": 1007, "v": 1.13}, {"s": "Cu/OP/10 mM HP", "ch": 1023, "v": 1.4}, {"s": "Cu/OP/10 mM HP", "ch": 1030, "v": 4.0}, {"s": "Cu/OP/10 mM HP", "ch": 1040, "v": 6.2}, {"s": "Cu/OP/10 mM HP", "ch": 1057, "v": 4.66}, {"s": "Cu/OP/10 mM HP", "ch": 1073, "v": 3.45}, {"s": "Cu/OP/10 mM HP", "ch": 1098, "v": 2.95}, {"s": "Cu/OP/10 mM HP", "ch": 1110, "v": 3.34}, {"s": "Cu/OP/10 mM HP", "ch": 1123, "v": 4.0}, {"s": "Cu/OP/10 mM HP", "ch": 1135, "v": 3.0}, {"s": "Cu/OP/10 mM HP", "ch": 1156, "v": 2.84}, {"s": "Cu/OP/10 mM HP", "ch": 1181, "v": 2.78}, {"s": "Cu/OP/10 mM HP", "ch": 1206, "v": 3.22}, {"s": "Cu/OP/10 mM HP", "ch": 1222, "v": 4.44}, {"s": "Cu/OP/10 mM HP", "ch": 1241, "v": 5.0}, {"s": "Cu/OP/10 mM HP", "ch": 1255, "v": 4.22}, {"s": "Cu/OP/10 mM HP", "ch": 1272, "v": 2.78}, {"s": "Cu/OP/10 mM HP", "ch": 1297, "v": 2.45}, {"s": "Cu/OP/10 mM HP", "ch": 1330, "v": 2.28}, {"s": "Cu/OP/10 mM HP", "ch": 1355, "v": 2.17}, {"s": "Cu/OP/10 mM HP", "ch": 1380, "v": 1.78}, {"s": "Cu/OP/10 mM HP", "ch": 1422, "v": 1.68}, {"s": "Cu/OP/10 mM HP", "ch": 1500, "v": 1.56},

      {"s": "PBS", "ch": 500, "v": 0.57}, {"s": "PBS", "ch": 587, "v": 0.63}, {"s": "PBS", "ch": 641, "v": 0.96}, {"s": "PBS", "ch": 654, "v": 1.51}, {"s": "PBS", "ch": 671, "v": 0.96}, {"s": "PBS", "ch": 700, "v": 1.13}, {"s": "PBS", "ch": 710, "v": 1.68}, {"s": "PBS", "ch": 718, "v": 4.44}, {"s": "PBS", "ch": 727, "v": 6.54}, {"s": "PBS", "ch": 735, "v": 3.34}, {"s": "PBS", "ch": 745, "v": 2.01}, {"s": "PBS", "ch": 766, "v": 1.46}, {"s": "PBS", "ch": 787, "v": 2.12}, {"s": "PBS", "ch": 796, "v": 2.67}, {"s": "PBS", "ch": 805, "v": 1.68}, {"s": "PBS", "ch": 820, "v": 1.46}, {"s": "PBS", "ch": 841, "v": 1.68}, {"s": "PBS", "ch": 849, "v": 3.34}, {"s": "PBS", "ch": 857, "v": 6.65}, {"s": "PBS", "ch": 865, "v": 10.74}, {"s": "PBS", "ch": 874, "v": 6.65}, {"s": "PBS", "ch": 884, "v": 3.34}, {"s": "PBS", "ch": 899, "v": 2.01}, {"s": "PBS", "ch": 911, "v": 2.12}, {"s": "PBS", "ch": 932, "v": 3.0}, {"s": "PBS", "ch": 945, "v": 3.22}, {"s": "PBS", "ch": 961, "v": 4.66}, {"s": "PBS", "ch": 969, "v": 2.23}, {"s": "PBS", "ch": 977, "v": 0.24}, {"s": "PBS", "ch": 994, "v": 0.05}, {"s": "PBS", "ch": 1007, "v": 0.08}, {"s": "PBS", "ch": 1019, "v": 0.24}, {"s": "PBS", "ch": 1030, "v": 3.34}, {"s": "PBS", "ch": 1038, "v": 5.99}, {"s": "PBS", "ch": 1048, "v": 3.89}, {"s": "PBS", "ch": 1061, "v": 3.34}, {"s": "PBS", "ch": 1078, "v": 2.78}, {"s": "PBS", "ch": 1090, "v": 2.23}, {"s": "PBS", "ch": 1109, "v": 2.06}, {"s": "PBS", "ch": 1123, "v": 2.45}, {"s": "PBS", "ch": 1135, "v": 5.55}, {"s": "PBS", "ch": 1145, "v": 9.97}, {"s": "PBS", "ch": 1152, "v": 5.55}, {"s": "PBS", "ch": 1160, "v": 2.01}, {"s": "PBS", "ch": 1181, "v": 1.46}, {"s": "PBS", "ch": 1202, "v": 1.57}, {"s": "PBS", "ch": 1214, "v": 2.62}, {"s": "PBS", "ch": 1227, "v": 1.51}, {"s": "PBS", "ch": 1248, "v": 1.73}, {"s": "PBS", "ch": 1268, "v": 2.78}, {"s": "PBS", "ch": 1277, "v": 4.44}, {"s": "PBS", "ch": 1283, "v": 5.93}, {"s": "PBS", "ch": 1293, "v": 3.34}, {"s": "PBS", "ch": 1303, "v": 1.3}, {"s": "PBS", "ch": 1330, "v": 0.96}, {"s": "PBS", "ch": 1353, "v": 1.46}, {"s": "PBS", "ch": 1368, "v": 0.8}, {"s": "PBS", "ch": 1422, "v": 0.63}, {"s": "PBS", "ch": 1500, "v": 0.52}
    ]
  },
  "config": {
    "font": "Liberation Sans",
    "view": {"stroke": null},
    "axis": {
      "grid": false,
      "domainColor": "#222222",
      "domainWidth": 1.3,
      "tickColor": "#222222",
      "tickWidth": 1.3,
      "tickSize": 7,
      "labelFont": "Liberation Sans",
      "labelFontSize": 23,
      "labelColor": "#111111",
      "labelPadding": 17,
      "labelFlush": false,
      "labelOverlap": false,
      "titleFont": "Liberation Sans",
      "titleFontSize": 24,
      "titleFontWeight": "bold",
      "titleColor": "#111111"
    },
    "axisX": {"labelPadding": 19, "titlePadding": 19, "format": "d"},
    "legend": {
      "orient": "none",
      "padding": 0,
      "symbolType": "M-9,0H1",
      "symbolSize": 100,
      "symbolStrokeWidth": 2,
      "labelFont": "Liberation Sans",
      "labelFontSize": 18,
      "labelFontWeight": "bold",
      "labelColor": "#111111",
      "labelLimit": 400,
      "labelOffset": 0
    },
    "title": {"font": "Liberation Sans", "fontSize": 37, "fontWeight": "normal", "color": "#000000", "anchor": "start", "frame": "bounds", "offset": 0}
  },
  "concat": [
    {
      "title": {"text": "A\u00a0\u00a0\u00a0\u00a0\u00a0\u00a0WT", "dy": 49, "dx": 2},
      "width": 804,
      "height": 437,
      "data": {"name": "wt"},
      "encoding": {
        "x": {"field": "ch", "type": "quantitative", "scale": {"domain": [500, 1500], "nice": false, "range": [24, 804]}, "axis": {"title": "channel", "values": [500, 700, 900, 1100, 1300, 1500], "titlePadding": 15}},
        "y": {"field": "v", "type": "quantitative", "scale": {"domain": [0, 18], "nice": false}, "axis": {"title": "Intensity (counts x 1000)", "values": [0, 2, 4, 6, 8, 10, 12, 14, 16, 18], "titlePadding": 29, "offset": -24}},
        "color": {
          "field": "s", "type": "nominal",
          "scale": {"domain": ["Cu/OP/20 mM HP/20 mM form (B)", "Cu/OP/20 mM HP/20 mM form (A)", "Cu/OP/20 mM HP", "PBS"], "range": ["#30e6f0", "#1212da", "#ec1a1a", "#9a9a9a"]},
          "legend": {"title": null, "legendX": 520, "legendY": -97, "rowPadding": 12}
        }
      },
      "layer": [
        {"transform": [{"filter": {"field": "s", "equal": "Cu/OP/20 mM HP/20 mM form (B)"}}], "mark": {"type": "line", "strokeWidth": 3.5, "interpolate": "monotone"}},
        {"transform": [{"filter": {"field": "s", "equal": "Cu/OP/20 mM HP/20 mM form (A)"}}], "mark": {"type": "line", "strokeWidth": 3.5, "interpolate": "monotone"}},
        {"transform": [{"filter": {"field": "s", "equal": "Cu/OP/20 mM HP"}}], "mark": {"type": "line", "strokeWidth": 3.5, "interpolate": "monotone"}},
        {"transform": [{"filter": {"field": "s", "equal": "PBS"}}], "mark": {"type": "line", "strokeWidth": 3.5, "interpolate": "monotone"}}
      ]
    },
    {
      "title": {"text": "B\u00a0\u00a0\u00a0\u00a0\u00a0Pex7 KO", "dy": 50},
      "width": 803,
      "height": 422,
      "data": {"name": "ko"},
      "encoding": {
        "x": {"field": "ch", "type": "quantitative", "scale": {"domain": [500, 1500], "nice": false}, "axis": {"title": "channel", "values": [500, 700, 900, 1100, 1300, 1500], "titlePadding": 17}},
        "y": {"field": "v", "type": "quantitative", "scale": {"domain": [0, 14], "nice": false}, "axis": {"title": "Intensity (counts x 1000)", "values": [0, 2, 4, 6, 8, 10, 12, 14], "titlePadding": 14}},
        "color": {
          "field": "s", "type": "nominal",
          "scale": {"domain": ["Cu/OP/10 mM HP/20 mM form (B)", "Cu/OP/10 mM HP/20 mM form (A)", "Cu/OP/10 mM HP/10 mM form", "Cu/OP/10 mM HP", "PBS"], "range": ["#30e6f0", "#1212da", "#22e222", "#ec1a1a", "#9a9a9a"]},
          "legend": {"title": null, "legendX": 509, "legendY": -134, "rowPadding": 13.5}
        }
      },
      "layer": [
        {"transform": [{"filter": {"field": "s", "equal": "Cu/OP/10 mM HP/20 mM form (B)"}}], "mark": {"type": "line", "strokeWidth": 3.5, "interpolate": "monotone"}},
        {"transform": [{"filter": {"field": "s", "equal": "Cu/OP/10 mM HP/20 mM form (A)"}}], "mark": {"type": "line", "strokeWidth": 3.5, "interpolate": "monotone"}},
        {"transform": [{"filter": {"field": "s", "equal": "Cu/OP/10 mM HP/10 mM form"}}], "mark": {"type": "line", "strokeWidth": 3.5, "interpolate": "monotone"}},
        {"transform": [{"filter": {"field": "s", "equal": "Cu/OP/10 mM HP"}}], "mark": {"type": "line", "strokeWidth": 3.5, "interpolate": "monotone"}},
        {"transform": [{"filter": {"field": "s", "equal": "PBS"}}], "mark": {"type": "line", "strokeWidth": 3.5, "interpolate": "monotone"}}
      ]
    }
  ],
  "columns": 1,
  "align": "none",
  "spacing": 71,
  "resolve": {"scale": {"x": "independent", "y": "independent", "color": "independent"}, "legend": {"color": "independent"}}
}
